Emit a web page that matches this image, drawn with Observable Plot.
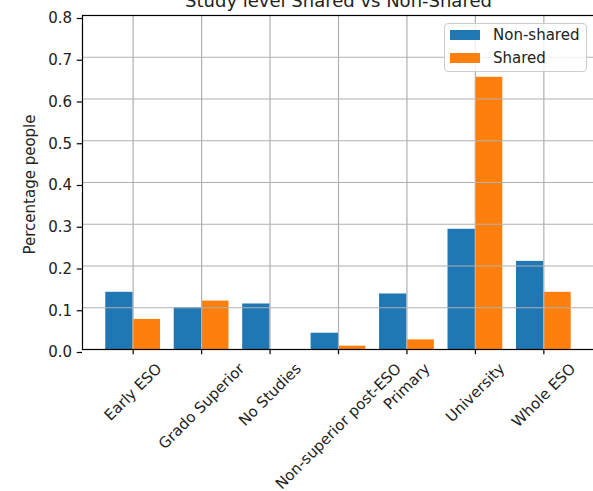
<!DOCTYPE html>
<html><head><meta charset="utf-8">
<script src="https://cdn.jsdelivr.net/npm/d3@7"></script>
<script src="https://cdn.jsdelivr.net/npm/@observablehq/plot@0.6"></script>
<style>
html,body{margin:0;padding:0;background:#fff;overflow:hidden}
#wrap{position:relative;width:593px;height:491px;font-family:"DejaVu Sans",sans-serif;color:#222}
.legend{position:absolute;left:444px;top:23px;width:143px;height:49px;box-sizing:border-box;border:1px solid #cccccc;border-radius:4px;background:rgba(255,255,255,0.8)}
.row{position:absolute;left:0;height:20px;display:flex;align-items:center;font-size:15px;white-space:nowrap}
.sw{margin-left:5px;width:30px;height:10.5px}
.lt{margin-left:13px}
</style></head>
<body><div id="wrap"></div>
<script>
const title = "Study level Shared vs Non-Shared";
const yLabel = "Percentage people";
const categories = ["Early ESO","Grado Superior","No Studies","Non-superior post-ESO","Primary","University","Whole ESO"];
const nonShared = [0.137, 0.100, 0.109, 0.039, 0.133, 0.288, 0.211];
const shared    = [0.072, 0.116, 0.000, 0.008, 0.023, 0.652, 0.137];
const yTicks = [0.0, 0.1, 0.2, 0.3, 0.4, 0.5, 0.6, 0.7, 0.8];
const seriesNames = ["Non-shared", "Shared"];
const seriesColors = ["#1f77b4", "#ff7f0e"];

const rows = categories.map((c, i) => ({category: c, nonShared: nonShared[i], shared: shared[i]}));

const FS = 15;
const ctx = document.createElement("canvas").getContext("2d");
ctx.font = `${FS}px "DejaVu Sans"`;
const lineH = FS * 1.164;
const xLabelMarks = categories.map(c => {
  const L = ctx.measureText(c).width;
  const W = (L + lineH) * Math.SQRT1_2;
  return Plot.text([c], {x: d => d, frameAnchor: "bottom", text: d => d, rotate: -45,
    textAnchor: "middle", lineAnchor: "middle", fontSize: FS, fill: "#222",
    dy: 10.5 + W / 2});
});

const halfBar = 27.38;
const grid = {stroke: "#b0b0b0", strokeOpacity: 1, strokeWidth: 1.2};

const chart = Plot.plot({
  width: 593, height: 491,
  marginLeft: 82, marginRight: -1, marginTop: 15, marginBottom: 142,
  style: {fontFamily: '"DejaVu Sans", sans-serif', background: "#fff"},
  x: {type: "band", domain: categories, paddingInner: 0.2, paddingOuter: 0.34, align: 0.5, round: false},
  y: {domain: [0, 0.8]},
  marks: [
    Plot.barY(rows, {x: "category", y: "nonShared", fill: seriesColors[0], insetRight: halfBar}),
    Plot.barY(rows, {x: "category", y: "shared", fill: seriesColors[1], insetLeft: halfBar}),
    Plot.gridY(yTicks, grid),
    Plot.gridX(categories, grid),
    Plot.frame({stroke: "#000", strokeWidth: 1.2}),
    Plot.axisY(yTicks, {tickFormat: d => d.toFixed(1), tickSize: 5.25, tickPadding: 5.25, fontSize: FS,
      label: null, stroke: "#000", strokeWidth: 1.2, fill: "#222", dy: 3}),
    Plot.axisX(categories, {tickSize: 5.25, tickFormat: () => "", label: null, stroke: "#000", strokeWidth: 1.2}),
    ...xLabelMarks,
    Plot.text([yLabel], {frameAnchor: "left", text: d => d, rotate: -90, textAnchor: "middle", lineAnchor: "middle",
      fontSize: FS, fill: "#222", dx: -52.8, dy: 2}),
    Plot.text([title], {frameAnchor: "top", text: d => d, textAnchor: "middle", lineAnchor: "middle",
      fontSize: 18, fill: "#222", dy: -14.5})
  ]
});

const wrap = document.getElementById("wrap");
wrap.appendChild(chart);

const legend = document.createElement("div");
legend.className = "legend";
seriesNames.forEach((name, i) => {
  const row = document.createElement("div");
  row.className = "row";
  row.style.top = (i === 0 ? 1 : 24) + "px";
  const sw = document.createElement("div");
  sw.className = "sw"; sw.style.background = seriesColors[i];
  const t = document.createElement("span");
  t.className = "lt"; t.textContent = name;
  row.appendChild(sw); row.appendChild(t);
  legend.appendChild(row);
});
wrap.appendChild(legend);
</script>
</body></html>
